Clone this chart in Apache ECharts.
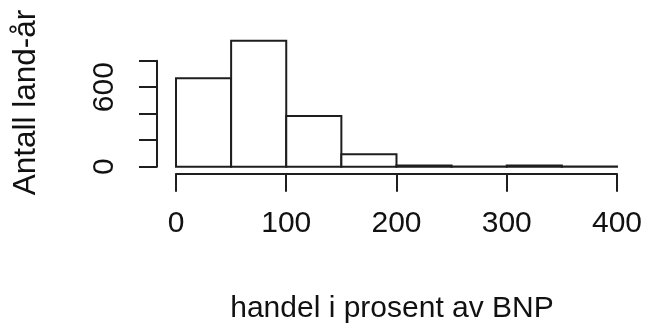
<!DOCTYPE html>
<html><head><meta charset="utf-8">
<script src="https://cdn.jsdelivr.net/npm/echarts@6/dist/echarts.min.js"></script>
<style>html,body{margin:0;padding:0;background:#fff}#c{width:645px;height:329px}</style>
</head><body><div id="c"></div>
<script>
// Histogram of trade as a share of GDP (country-years), 50-point bins
const binEdges = [0, 50, 100, 150, 200, 250, 300, 350, 400];
const counts = [667, 951, 383, 94, 9, 2, 9, 2];
const xTicks = [0, 100, 200, 300, 400];
const yTicks = [0, 200, 400, 600, 800];
const yLabeledTicks = [0, 600];
const xTitle = 'handel i prosent av BNP';
const yTitle = 'Antall land-år';

const ink = '#1e1e1e';
const font = '"Liberation Sans", Arial, sans-serif';

const bins = counts.map((c, i) => [binEdges[i], binEdges[i + 1], c]);

const chart = echarts.init(document.getElementById('c'), null, { renderer: 'canvas' });
chart.setOption({
  backgroundColor: '#fff',
  animation: false,
  grid: { left: 176, right: 26, top: 60.7, bottom: 162.3 },
  xAxis: {
    type: 'value',
    min: xTicks[0], max: xTicks[xTicks.length - 1], interval: 100,
    offset: 7,
    axisLine: { show: true, onZero: false, lineStyle: { color: ink, width: 2 } },
    axisTick: { show: true, length: 18, lineStyle: { color: ink, width: 2 } },
    axisLabel: { color: '#111', fontFamily: font, fontSize: 30, margin: 35 },
    splitLine: { show: false }
  },
  yAxis: {
    type: 'value',
    min: yTicks[0], max: yTicks[yTicks.length - 1], interval: 200,
    offset: 19,
    axisLine: { show: true, onZero: false, lineStyle: { color: ink, width: 2 } },
    axisTick: { show: true, length: 18, lineStyle: { color: ink, width: 2 } },
    axisLabel: {
      color: '#111', fontFamily: font, fontSize: 30, rotate: 90, margin: 37,
      formatter: v => (yLabeledTicks.includes(v) ? String(v) : '')
    },
    splitLine: { show: false }
  },
  series: [{
    type: 'custom',
    clip: false,
    encode: { x: [0, 1], y: 2 },
    data: bins,
    renderItem: (params, api) => {
      const top = api.coord([api.value(0), api.value(2)]);
      const base = api.coord([api.value(1), 0]);
      return {
        type: 'rect',
        shape: { x: top[0], y: top[1], width: base[0] - top[0], height: base[1] - top[1] },
        style: { fill: '#fff', stroke: ink, lineWidth: 2 }
      };
    }
  }],
  graphic: [
    {
      type: 'text', x: 392, y: 309,
      style: { text: xTitle, font: '30px ' + font, fill: '#111', align: 'center', verticalAlign: 'middle' }
    },
    {
      type: 'text', x: 26, y: 102.5, rotation: Math.PI / 2,
      style: { text: yTitle, font: '31.5px ' + font, fill: '#111', align: 'center', verticalAlign: 'middle' }
    }
  ]
});
</script>
</body></html>
